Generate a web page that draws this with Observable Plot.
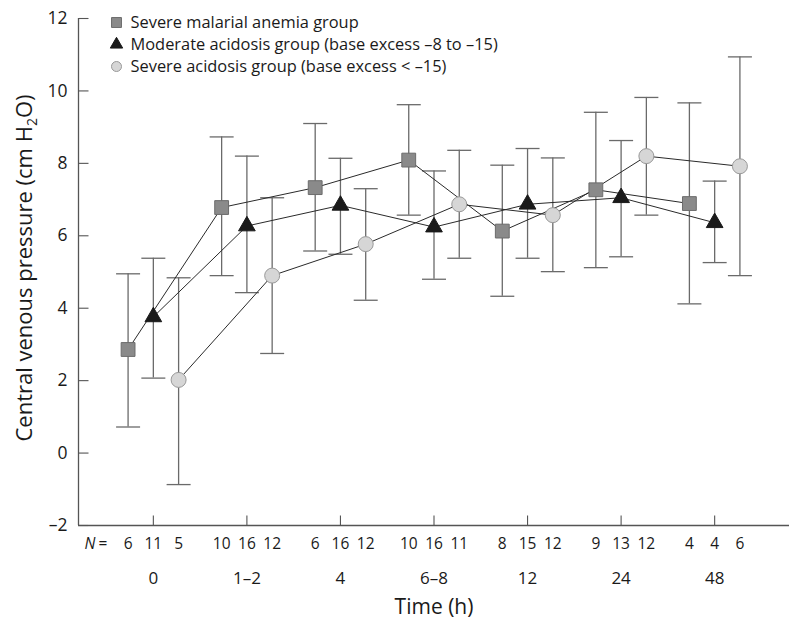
<!DOCTYPE html>
<html><head><meta charset="utf-8">
<script src="https://cdn.jsdelivr.net/npm/d3@7"></script>
<script src="https://cdn.jsdelivr.net/npm/@observablehq/plot@0.6"></script>
<style>body{margin:0;background:#fff;} #chart{width:800px;height:635px;}</style>
</head><body><div id="chart"></div>
<script>
// ---- data ----
const times = ["0", "1–2", "4", "6–8", "12", "24", "48"];
const groups = [
  "Severe malarial anemia group",
  "Moderate acidosis group (base excess –8 to –15)",
  "Severe acidosis group (base excess < –15)"
];
const anemiaMean = [2.86, 6.78, 7.33, 8.09, 6.13, 7.27, 6.89];
const anemiaLow  = [0.72, 4.90, 5.58, 6.57, 4.33, 5.12, 4.12];
const anemiaHigh = [4.95, 8.73, 9.10, 9.62, 7.95, 9.41, 9.67];
const anemiaN    = [6, 10, 6, 10, 8, 9, 4];
const moderateMean = [3.76, 6.27, 6.84, 6.24, 6.87, 7.05, 6.36];
const moderateLow  = [2.07, 4.43, 5.49, 4.80, 5.38, 5.42, 5.26];
const moderateHigh = [5.38, 8.20, 8.14, 7.79, 8.41, 8.63, 7.51];
const moderateN    = [11, 16, 16, 16, 15, 13, 4];
const severeMean = [2.02, 4.90, 5.77, 6.87, 6.57, 8.20, 7.92];
const severeLow  = [-0.87, 2.75, 4.22, 5.38, 5.01, 6.57, 4.90];
const severeHigh = [4.84, 7.05, 7.30, 8.36, 8.15, 9.82, 10.94];
const severeN    = [5, 12, 12, 11, 12, 12, 6];
const yTicks = [-2, 0, 2, 4, 6, 8, 10, 12];
const yTickLabels = ["–2", "0", "2", "4", "6", "8", "10", "12"];
const xTitle = "Time (h)";
const yTitle = "Central venous pressure (cm H2O)";

// ---- layout / style ----
const xDomain = [-0.8, 6.8];
const yDomain = [-2, 12];
const offsets = [-0.27, 0, 0.27];
const styles = [
  {symbol: "square", r: 7.8, fill: "#8a8a8a", stroke: "#6c6c6c", lr: 5.6},
  {symbol: "triangle", r: 6.2, fill: "#1a1a1a", stroke: "#1a1a1a", lr: 4.6},
  {symbol: "circle", r: 7.5, fill: "#d6d6d6", stroke: "#999999", lr: 5}
];
const FONT = "'Open Sans', sans-serif";
const TXT = "#1a1a1a";
const axisColor = "#555";
const barColor = "#6a6a6a";

const seriesData = [
  {mean: anemiaMean, low: anemiaLow, high: anemiaHigh, n: anemiaN},
  {mean: moderateMean, low: moderateLow, high: moderateHigh, n: moderateN},
  {mean: severeMean, low: severeLow, high: severeHigh, n: severeN}
];
const rows = [];
seriesData.forEach((s, g) => {
  times.forEach((t, i) => {
    rows.push({group: groups[g], g, i, x: i + offsets[g], mean: s.mean[i], low: s.low[i], high: s.high[i], n: s.n[i]});
  });
});

const capSym = {draw(ctx, size) { const w = Math.sqrt(size / Math.PI); ctx.moveTo(-w, 0); ctx.lineTo(w, 0); }};
const yTickSym = {draw(ctx) { ctx.moveTo(0, 0); ctx.lineTo(10, 0); }};
const xTickSym = {draw(ctx) { ctx.moveTo(0, 0); ctx.lineTo(0, -10); }};

const marks = [
  Plot.ruleX([xDomain[0]], {stroke: axisColor, strokeWidth: 1.3}),
  Plot.ruleY([yDomain[0]], {stroke: axisColor, strokeWidth: 1.3}),
  Plot.dot(yTicks, {x: xDomain[0], y: d => d, symbol: yTickSym, r: 5, stroke: axisColor, fill: "none", strokeWidth: 1.1}),
  Plot.text(yTicks, {x: xDomain[0], y: d => d, text: (d, i) => yTickLabels[i], textAnchor: "end", dx: -11, fontSize: 17.5, fill: TXT}),
  Plot.dot(times, {x: (d, i) => i, y: yDomain[0], symbol: xTickSym, r: 5, stroke: axisColor, fill: "none", strokeWidth: 1.1}),
  Plot.text(times, {x: (d, i) => i, y: yDomain[0], dy: 53, text: d => d, fontSize: 17, fill: TXT}),
  Plot.text(rows, {x: "x", y: yDomain[0], dy: 19, text: "n", fontSize: 15.5, fill: TXT}),
  Plot.text(["N"], {x: xDomain[0], y: yDomain[0], dx: 6, dy: 19, textAnchor: "start", fontStyle: "italic", fontSize: 15.5, fill: TXT}),
  Plot.text(["="], {x: xDomain[0], y: yDomain[0], dx: 20, dy: 19, textAnchor: "start", fontSize: 15.5, fill: TXT}),
  Plot.text([xTitle], {frameAnchor: "bottom", dy: 88, fontSize: 21, fill: TXT}),
  Plot.text([yTitle], {frameAnchor: "left", textAnchor: "middle", dx: -54, dy: -4, rotate: -90, fontSize: 22, fill: TXT}),
  // error bars
  Plot.ruleX(rows, {x: "x", y1: "low", y2: "high", stroke: barColor, strokeWidth: 1.3}),
  Plot.dot(rows, {x: "x", y: "low", symbol: capSym, r: 12, stroke: barColor, fill: "none", strokeWidth: 1.3}),
  Plot.dot(rows, {x: "x", y: "high", symbol: capSym, r: 12, stroke: barColor, fill: "none", strokeWidth: 1.3}),
  // connecting lines
  Plot.line(rows, {x: "x", y: "mean", z: "group", stroke: "#2a2a2a", strokeWidth: 1})
];
// markers
styles.forEach((st, g) => {
  marks.push(Plot.dot(rows.filter(d => d.g === g), {x: "x", y: "mean", symbol: st.symbol, r: st.r, fill: st.fill, stroke: st.stroke, strokeWidth: 1}));
});
// legend
styles.forEach((st, g) => {
  marks.push(Plot.dot([groups[g]], {frameAnchor: "top-left", dx: 38, dy: 4 + 22 * g, symbol: st.symbol, r: st.lr, fill: st.fill, stroke: st.stroke, strokeWidth: 1}));
  marks.push(Plot.text([groups[g]], {frameAnchor: "top-left", dx: 52, dy: 4 + 22 * g, text: d => d, textAnchor: "start", lineAnchor: "middle", fontSize: 16.4, fill: TXT}));
});

const chart = Plot.plot({
  width: 800, height: 635,
  marginLeft: 78, marginRight: 11, marginTop: 18, marginBottom: 110,
  style: {fontFamily: FONT, background: "#fff", color: TXT, overflow: "visible"},
  x: {domain: xDomain, axis: null},
  y: {domain: yDomain, axis: null},
  marks
});

// subscript for H2O
chart.querySelectorAll("text").forEach(t => {
  if (t.textContent === yTitle) {
    t.textContent = "";
    const ns = "http://www.w3.org/2000/svg";
    const a = document.createElementNS(ns, "tspan"); a.textContent = "Central venous pressure (cm H";
    const b = document.createElementNS(ns, "tspan"); b.textContent = "2"; b.setAttribute("dy", "5"); b.setAttribute("font-size", "14");
    const c = document.createElementNS(ns, "tspan"); c.textContent = "O)"; c.setAttribute("dy", "-5");
    t.append(a, b, c);
  }
});
document.getElementById("chart").append(chart);
</script></body></html>
